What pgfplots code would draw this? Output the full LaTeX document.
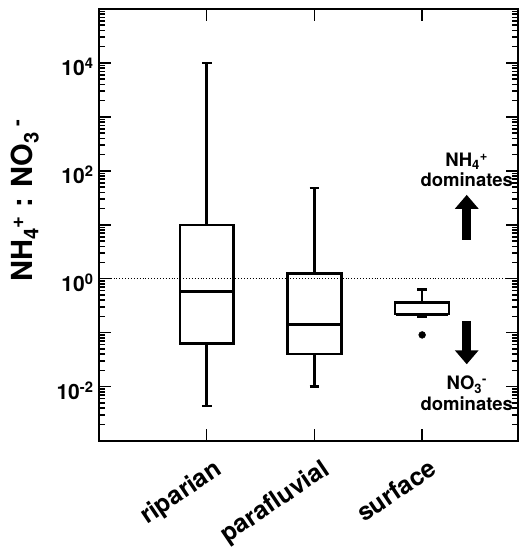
\documentclass[border=0pt]{standalone}
\usepackage{fontspec}
\setmainfont{TeX Gyre Heros}
\usepackage{pgfplots}
\pgfplotsset{compat=1.18}
\usepgfplotslibrary{statistics}
\usetikzlibrary{arrows.meta}
\begin{document}
\begin{tikzpicture}
\begin{axis}[
 scale only axis, width=419pt, height=431.6pt,
 xmin=0, xmax=3.89, ymode=log, ymin=1e-3, ymax=1e5,
 xtick={1,2,3}, xticklabels={riparian,parafluvial,surface},
 ytick={1e-3,1e-2,1e-1,1,1e1,1e2,1e3,1e4,1e5},
 yticklabels={,10\textsuperscript{-2},,10\textsuperscript{0},,10\textsuperscript{2},,10\textsuperscript{4},},
 minor ytick={2e-3,3e-3,4e-3,5e-3,6e-3,7e-3,8e-3,9e-3,
   2e-2,3e-2,4e-2,5e-2,6e-2,7e-2,8e-2,9e-2,
   2e-1,3e-1,4e-1,5e-1,6e-1,7e-1,8e-1,9e-1,
   2,3,4,5,6,7,8,9,
   20,30,40,50,60,70,80,90,
   200,300,400,500,600,700,800,900,
   2000,3000,4000,5000,6000,7000,8000,9000,
   2e4,3e4,4e4,5e4,6e4,7e4,8e4,9e4},
 tick align=inside, xtick pos=both, ytick pos=both,
 major tick length=12pt, minor tick length=6pt,
 every tick/.style={black, line width=1.5pt},
 axis line style={line width=2.2pt},
 yticklabel style={font=\fontsize{21}{24}\selectfont\bfseries, yshift=-4pt, xshift=-2pt},
 xticklabel style={font=\fontsize{25}{28}\selectfont\bfseries, xshift=6pt, yshift=-17pt, rotate=34, anchor=north east, inner sep=0pt},
 boxplot/draw direction=y,
 mybox/.style={draw=black, line width=2.5pt},
 clip=false,
]
\addplot[black, dotted, line width=0.9pt] coordinates {(0,1) (3.89,1)};
\addplot[mybox, boxplot prepared={draw position=1, lower whisker=0.0044, lower quartile=0.063, median=0.59, upper quartile=10, upper whisker=10000, box extend=0.5, whisker extend=0.09}] coordinates {};
\addplot[mybox, boxplot prepared={draw position=2, lower whisker=0.010, lower quartile=0.040, median=0.144, upper quartile=1.25, upper whisker=48, box extend=0.5, whisker extend=0.09}] coordinates {};
\addplot[mybox, boxplot prepared={draw position=3, lower whisker=0.196, lower quartile=0.22, median=0.22, upper quartile=0.36, upper whisker=0.635, box extend=0.5, whisker extend=0.09}, mark=*, mark size=3.4pt, mark options={fill=black, draw=black, line width=0.5pt}] table[row sep=\\, y index=0] {0.091\\};
% medians (thick)
\addplot[black, line width=3.2pt, line cap=butt] coordinates {(0.76,0.59) (1.24,0.59)};
\addplot[black, line width=3.2pt, line cap=butt] coordinates {(1.76,0.144) (2.24,0.144)};
\addplot[black, line width=3.2pt, line cap=butt] coordinates {(2.76,0.215) (3.24,0.215)};
\draw[line width=9pt, -{Triangle[width=23pt,length=14pt]}] (axis cs:3.414,5.3) -- (axis cs:3.414,35.9);
\draw[line width=9pt, -{Triangle[width=23pt,length=14pt]}] (axis cs:3.414,0.165) -- (axis cs:3.414,0.026);
\node[align=center, font=\fontsize{18.5}{20.5}\selectfont\bfseries] at (axis cs:3.414,104) {NH\textsubscript{4}\textsuperscript{+}\\dominates};
\node[align=center, font=\fontsize{18.5}{20.5}\selectfont\bfseries] at (axis cs:3.414,0.0075) {NO\textsubscript{3}\textsuperscript{-}\\dominates};
\node[rotate=90, font=\fontsize{29}{32}\selectfont\bfseries] at ([xshift=-74pt]rel axis cs:0,0.556) {NH\textsubscript{4}\textsuperscript{+} : NO\textsubscript{3}\,\textsuperscript{-}};
\end{axis}
\pgfresetboundingbox
\path[use as bounding box] ([shift={(-99pt,-109.4pt)}]current axis.south west) rectangle ([shift={(9pt,9pt)}]current axis.north east);
\end{tikzpicture}
\end{document}
